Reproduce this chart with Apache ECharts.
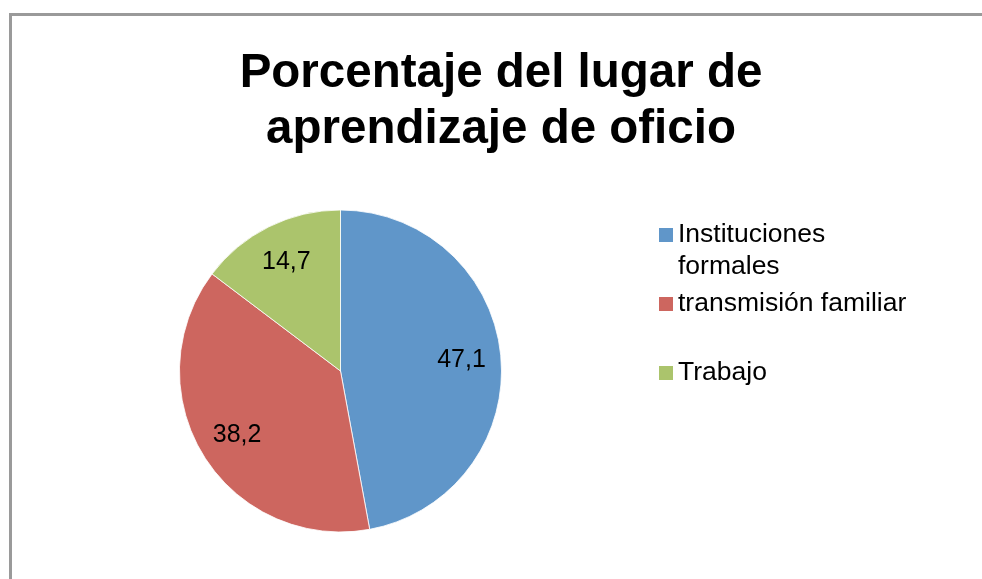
<!DOCTYPE html>
<html>
<head>
<meta charset="utf-8">
<title>Porcentaje del lugar de aprendizaje de oficio</title>
<script src="https://cdn.jsdelivr.net/npm/echarts@6/dist/echarts.min.js"></script>
<style>
  html, body { margin: 0; padding: 0; background: #fff; }
  #chart { width: 982px; height: 579px; }
</style>
</head>
<body>
<div id="chart"></div>
<script>
// datos del gráfico
const categorias = ['Instituciones formales', 'transmisión familiar', 'Trabajo'];
const porcentajes = [47.1, 38.2, 14.7];
const colores = ['#6096C9', '#CD665F', '#ABC46C'];

const fuente = '"Liberation Sans", Arial, sans-serif';

const datos = categorias.map((nombre, i) => ({
    name: nombre,
    value: porcentajes[i],
    itemStyle: { color: colores[i] }
}));

// una leyenda por elemento, el espaciado del original no es regular
// (la primera lleva una línea vacía arriba para que el cuadro quede junto a la primera línea)
const leyenda = (nombre, top) => ({
    data: [nombre],
    orient: 'vertical',
    left: 659,
    top: top,
    padding: 0,
    icon: 'rect',
    itemWidth: 14,
    itemHeight: 14,
    itemStyle: { borderWidth: 0 },
    selectedMode: false,
    formatter: n => n === 'Instituciones formales' ? ' \nInstituciones\nformales' : n,
    textStyle: {
        fontFamily: fuente,
        fontSize: 26.5,
        lineHeight: 32,
        color: '#000'
    }
});

const chart = echarts.init(document.getElementById('chart'));

chart.setOption({
    backgroundColor: '#fff',
    animation: false,
    title: {
        text: 'Porcentaje del lugar de\naprendizaje de oficio',
        left: 501,
        textAlign: 'center',
        top: 46,
        padding: 0,
        textStyle: {
            fontFamily: fuente,
            fontSize: 47.5,
            fontWeight: 'bold',
            lineHeight: 56,
            color: '#000'
        }
    },
    legend: [
        leyenda(categorias[0], 187),
        leyenda(categorias[1], 288),
        leyenda(categorias[2], 357)
    ],
    graphic: [{
        type: 'rect',
        silent: true,
        shape: { x: 10.5, y: 14.5, width: 1000, height: 600 },
        style: { fill: null, stroke: '#9a9a9a', lineWidth: 3 }
    }],
    series: [
        {
            type: 'pie',
            center: [340.5, 371],
            radius: 161,
            startAngle: 90,
            clockwise: true,
            silent: true,
            label: { show: false },
            labelLine: { show: false },
            itemStyle: { borderColor: '#fff', borderWidth: 0.8 },
            data: datos
        },
        {
            // solo para colocar las etiquetas más hacia el borde
            type: 'pie',
            center: [340.5, 371],
            radius: [76, 161],
            startAngle: 90,
            clockwise: true,
            silent: true,
            itemStyle: { color: 'rgba(0,0,0,0)' },
            label: {
                show: true,
                position: 'inside',
                fontFamily: fuente,
                fontSize: 25,
                color: '#000',
                formatter: p => String(p.value).replace('.', ',')
            },
            labelLine: { show: false },
            data: categorias.map((nombre, i) => ({ name: nombre, value: porcentajes[i] }))
        }
    ]
});
</script>
</body>
</html>
